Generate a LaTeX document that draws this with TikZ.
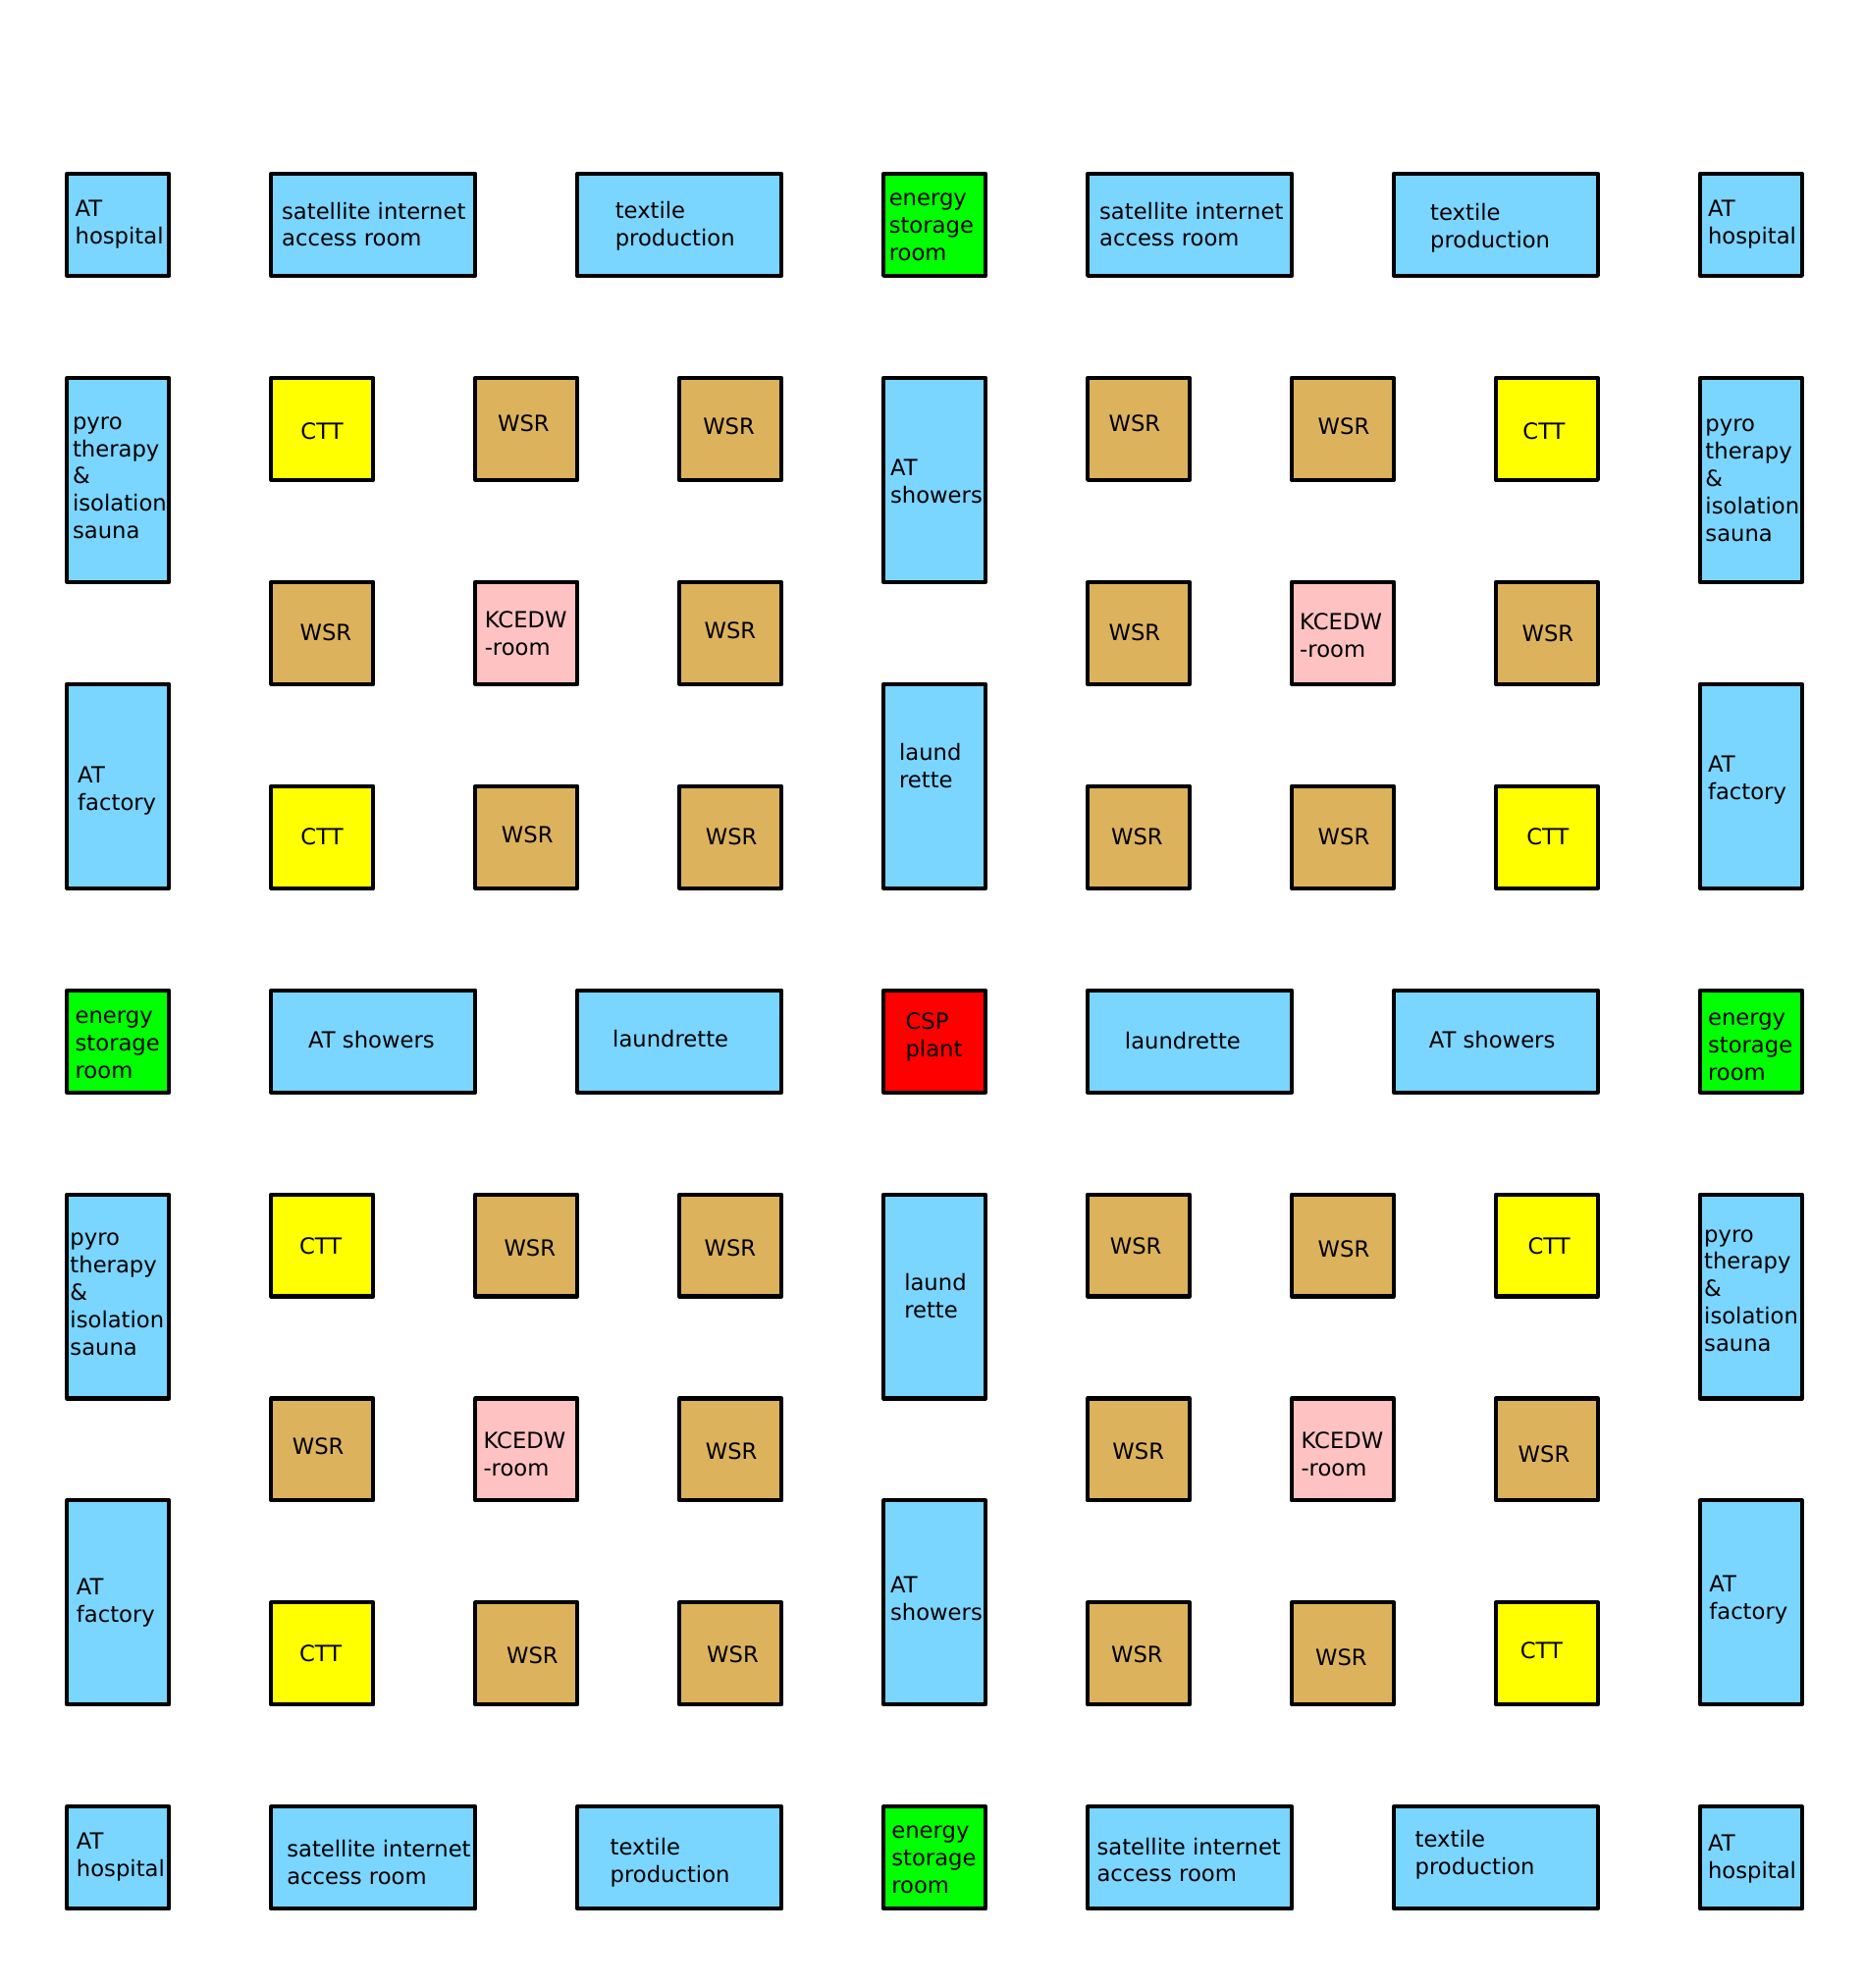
\documentclass[tikz,border=0pt]{standalone}
\usepackage{fontspec}
\setmainfont{DejaVu Sans}
\definecolor{cblue}{RGB}{122,213,255}
\definecolor{ctan}{RGB}{220,178,92}
\definecolor{cpink}{RGB}{255,194,194}
\definecolor{cyellow}{RGB}{255,255,0}
\definecolor{cgreen}{RGB}{0,255,0}
\definecolor{cred}{RGB}{255,0,0}
\begin{document}
\begin{tikzpicture}[x=0.02cm,y=-0.02cm,line join=round,
	roomtext/.style={inner sep=0pt,align=left,font=\fontsize{10}{12.3}\selectfont},
	txtwest/.style={anchor=west,yshift=-1.1pt},
	txtcenter/.style={anchor=center}]
		%==grid parameters
		\def\u{80.5}
		\def\ox{53}
		\def\oy{137}
		%==============
		\useasboundingbox (0,0) rectangle (1470,1568);
		\foreach \i/\j/\w/\h/\c/\an/\tx/\ty/\t [count=\n] in {
			0/0/1/1/cblue/west/59/175/{AT\\hospital},
			2/0/2/1/cblue/west/222/175/{satellite internet\\access room},
			5/0/2/1/cblue/west/485/176.5/{textile\\production},
			8/0/1/1/cgreen/west/701/177/{energy\\storage\\room},
			10/0/2/1/cblue/west/867/175/{satellite internet\\access room},
			13/0/2/1/cblue/west/1128/178/{textile\\production},
			16/0/1/1/cblue/west/1347/175/{AT\\hospital},
			%
			0/2/1/2/cblue/west/57/375/{pyro\\therapy\\\&\\isolation\\sauna},
			2/2/1/1/cyellow/center/254/340/CTT,
			4/2/1/1/ctan/center/413/334/WSR,
			6/2/1/1/ctan/center/575/336/WSR,
			8/2/1/2/cblue/west/702/377.5/{AT\\showers},
			10/2/1/1/ctan/center/895/334/WSR,
			12/2/1/1/ctan/center/1060/336/WSR,
			14/2/1/1/cyellow/center/1218/340/CTT,
			16/2/1/2/cblue/west/1345/377/{pyro\\therapy\\\&\\isolation\\sauna},
			%
			2/4/1/1/ctan/center/257/499/WSR,
			4/4/1/1/cpink/west/382/498/{KCEDW\\-room},
			6/4/1/1/ctan/center/576/497/WSR,
			10/4/1/1/ctan/center/895/499/WSR,
			12/4/1/1/cpink/west/1025/499.5/{KCEDW\\-room},
			14/4/1/1/ctan/center/1221/500/WSR,
			%
			0/5/1/2/cblue/west/61/622/{AT\\factory},
			8/5/1/2/cblue/west/709/602/{laund\\rette},
			16/5/1/2/cblue/west/1347/613/{AT\\factory},
			%
			2/6/1/1/cyellow/center/254/660/CTT,
			4/6/1/1/ctan/center/416/658/WSR,
			6/6/1/1/ctan/center/577/660/WSR,
			10/6/1/1/ctan/center/897/660/WSR,
			12/6/1/1/ctan/center/1060/660/WSR,
			14/6/1/1/cyellow/center/1221/660/CTT,
			%
			0/8/1/1/cgreen/west/59/822/{energy\\storage\\room},
			2/8/2/1/cblue/center/293/820/AT showers,
			5/8/2/1/cblue/center/529/819/laundrette,
			8/8/1/1/cred/west/714/816/{CSP\\plant},
			10/8/2/1/cblue/center/933/821/laundrette,
			13/8/2/1/cblue/center/1177/820/AT showers,
			16/8/1/1/cgreen/west/1347/824/{energy\\storage\\room},
			%
			0/10/1/2/cblue/west/55/1019/{pyro\\therapy\\\&\\isolation\\sauna},
			2/10/1/1/cyellow/center/253/983/CTT,
			4/10/1/1/ctan/center/418/984/WSR,
			6/10/1/1/ctan/center/576/984/WSR,
			8/10/1/2/cblue/west/713/1020.5/{laund\\rette},
			10/10/1/1/ctan/center/896/983/WSR,
			12/10/1/1/ctan/center/1060/985/WSR,
			14/10/1/1/cyellow/center/1222/983/CTT,
			16/10/1/2/cblue/west/1344/1016/{pyro\\therapy\\\&\\isolation\\sauna},
			%
			2/12/1/1/ctan/center/251/1141/WSR,
			4/12/1/1/cpink/west/381/1145/{KCEDW\\-room},
			6/12/1/1/ctan/center/577/1145/WSR,
			10/12/1/1/ctan/center/898/1145/WSR,
			12/12/1/1/cpink/west/1026/1145/{KCEDW\\-room},
			14/12/1/1/ctan/center/1218/1147/WSR,
			%
			0/13/1/2/cblue/west/60/1262/{AT\\factory},
			8/13/1/2/cblue/west/702/1259/{AT\\showers},
			16/13/1/2/cblue/west/1348/1260/{AT\\factory},
			%
			2/14/1/1/cyellow/center/253/1304/CTT,
			4/14/1/1/ctan/center/420/1306/WSR,
			6/14/1/1/ctan/center/578/1305/WSR,
			10/14/1/1/ctan/center/897/1305/WSR,
			12/14/1/1/ctan/center/1058/1307/WSR,
			14/14/1/1/cyellow/center/1216/1302/CTT,
			%
			0/16/1/1/cblue/west/60/1463/{AT\\hospital},
			2/16/2/1/cblue/west/226/1467/{satellite internet\\access room},
			5/16/2/1/cblue/west/481/1467/{textile\\production},
			8/16/1/1/cgreen/west/703/1465/{energy\\storage\\room},
			10/16/2/1/cblue/west/865/1465/{satellite internet\\access room},
			13/16/2/1/cblue/west/1116/1461/{textile\\production},
			16/16/1/1/cblue/west/1347/1464/{AT\\hospital}}{
			\draw[line width=1.8pt,fill=\c] ({\ox+\u*\i},{\oy+\u*\j}) rectangle ++({\u*\w},{\u*\h});
			\node[roomtext,txt\an] (room\n) at (\tx,\ty) {\t};
		}
		\end{tikzpicture}
\end{document}
